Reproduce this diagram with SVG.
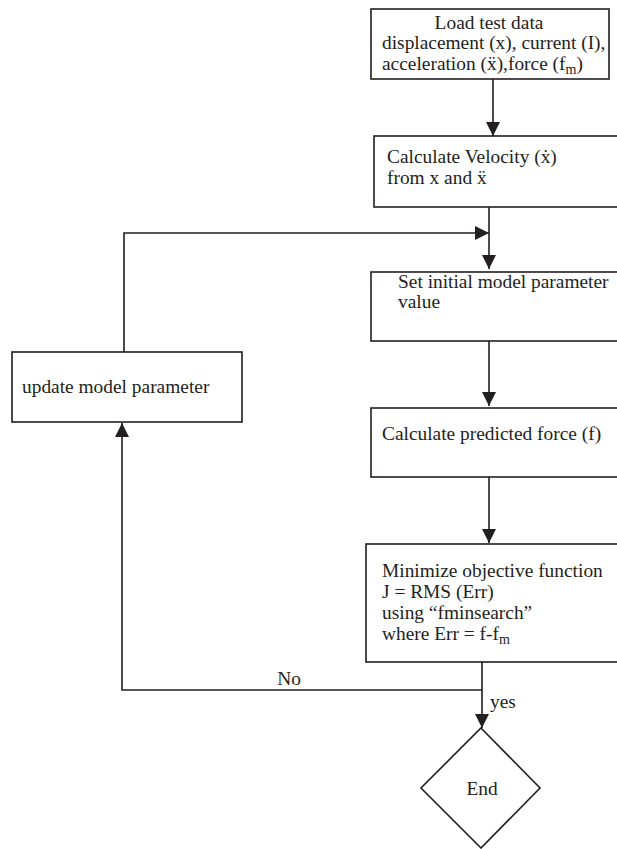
<svg xmlns="http://www.w3.org/2000/svg" width="617" height="849" viewBox="0 0 617 849">
  <defs>
    <style>
      .box { fill: #ffffff; stroke: #231f20; stroke-width: 1.6; }
      .line { fill: none; stroke: #231f20; stroke-width: 1.6; }
      text { font-family: "Liberation Serif", "Times New Roman", serif; font-size: 19.4px; fill: #231f20; }
      .sub { font-size: 14px; }
    </style>
    <marker id="arrow" viewBox="0 0 14 14" refX="14" refY="7" markerWidth="14" markerHeight="14" markerUnits="userSpaceOnUse" orient="auto">
      <path d="M0,0 L14,7 L0,14 Z" fill="#231f20"/>
    </marker>
  </defs>

  <rect width="617" height="849" fill="#ffffff"/>

  <!-- connectors -->
  <g id="connectors">
    <path class="line" d="M493,79 V136" marker-end="url(#arrow)"/>
    <path class="line" d="M489,207 V269" marker-end="url(#arrow)"/>
    <path class="line" d="M124,352 V233 H489" marker-end="url(#arrow)"/>
    <path class="line" d="M489,341 V406" marker-end="url(#arrow)"/>
    <path class="line" d="M489,477 V543" marker-end="url(#arrow)"/>
    <path class="line" d="M482,662 V728" marker-end="url(#arrow)"/>
    <path class="line" d="M482,690 H122 V423" marker-end="url(#arrow)"/>
    <text x="289" y="685" text-anchor="middle">No</text>
    <text x="490" y="708">yes</text>
  </g>

  <!-- load test data -->
  <g id="load">
    <rect class="box" x="371" y="9" width="238" height="70"/>
    <text x="489" y="29" text-anchor="middle">Load test data</text>
    <text x="382" y="49">displacement (x), current (I),</text>
    <text x="382" y="70">acceleration (ẍ),force (f<tspan class="sub" dy="4">m</tspan><tspan dy="-4">)</tspan></text>
  </g>

  <!-- velocity -->
  <g id="velocity">
    <rect class="box" x="374" y="136" width="250" height="71"/>
    <text x="387" y="163">Calculate Velocity (ẋ)</text>
    <text x="387" y="184">from x and ẍ</text>
  </g>

  <!-- initial parameters -->
  <g id="init">
    <rect class="box" x="371" y="272" width="253" height="69"/>
    <text x="398" y="288">Set initial model parameter</text>
    <text x="398" y="308">value</text>
  </g>

  <!-- predicted force -->
  <g id="predict">
    <rect class="box" x="371" y="408" width="253" height="69"/>
    <text x="382" y="440">Calculate predicted force (f)</text>
  </g>

  <!-- objective minimisation -->
  <g id="minimize">
    <rect class="box" x="366" y="544" width="258" height="118"/>
    <text x="382" y="577">Minimize objective function</text>
    <text x="382" y="598">J = RMS (Err)</text>
    <text x="382" y="619">using “fminsearch”</text>
    <text x="382" y="640">where Err = f-f<tspan class="sub" dy="4">m</tspan></text>
  </g>

  <!-- parameter update -->
  <g id="update">
    <rect class="box" x="12" y="352" width="230" height="70"/>
    <text x="22" y="393">update model parameter</text>
  </g>

  <!-- end -->
  <g id="end">
    <path class="line" d="M481,728 L540,788 L481,848 L421,788 Z" fill="#ffffff"/>
    <text x="482" y="795" text-anchor="middle">End</text>
  </g>
</svg>
